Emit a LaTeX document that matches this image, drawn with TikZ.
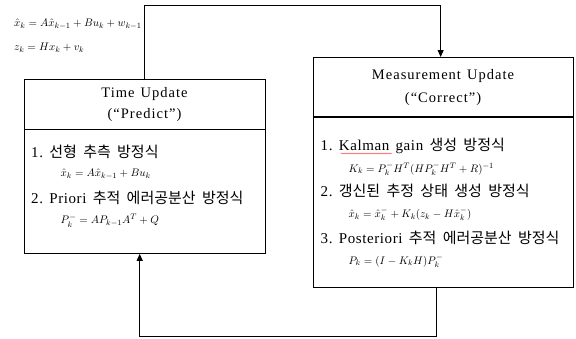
\documentclass[tikz,border=0pt]{standalone}
\usepackage{fontspec}
\setmainfont[LetterSpace=4]{Liberation Serif}
\newfontfamily\hd[LetterSpace=7]{Liberation Serif}
\newfontfamily\kr{Noto Sans CJK KR}
\usetikzlibrary{arrows.meta,decorations.pathmorphing}
\newcommand\kt[1]{{\kr #1}}
\newcommand\gap{\hspace{0.42em}}
\begin{document}
\begin{tikzpicture}[x=1pt,y=-1pt,
  box/.style={draw, line width=1.3pt, minimum width=#1, anchor=north west, inner sep=0pt},
  link/.style={line width=1pt, -{Triangle[length=7pt,width=6pt]}},
  head/.style={font=\hd\fontsize{14.5}{16}\selectfont, inner sep=0pt},
  txt/.style={font=\fontsize{15}{17}\selectfont, anchor=west, inner sep=0pt},
  eq/.style={font=\fontsize{11}{13}\selectfont, anchor=west, inner sep=0pt},
  divider/.style={line width=1.1pt}]
\useasboundingbox (0,0) rectangle (576,338);

% boxes
\node[box=241pt, minimum height=174pt] (tu) at (24,78.5) {};
\node[box=260pt, minimum height=230pt] (mu) at (313,57) {};
\coordinate (tud) at (24,129.7);
\coordinate (mud) at (313,117);
\draw[divider] (tud) -- (tud -| tu.east);
\draw[divider] (mud) -- (mud -| mu.east);

% top-left equations
\node[eq] (e1) at (14,24) {$\hat{x}_k = A\hat{x}_{k-1} + Bu_k + w_{k-1}$};
\node[eq] (e2) at (14,47.5) {$z_k = Hx_k + v_k$};

% left box text
\node[head] (th1) at (144.5,93.7) {Time\gap Update};
\node[head] (th2) at (144.5,115.5) {(“Predict”)};
\node[txt] (l1) at (31,151.7) {1.\gap\kt{선형\gap 추측\gap 방정식}};
\node[eq] (l1e) at (60.5,174) {$\hat{x}_k = A\hat{x}_{k-1} + Bu_k$};
\node[txt] (l2) at (31,197.7) {2.\gap Priori\gap\kt{추적\gap 에러공분산\gap 방정식}};
\node[eq] (l2e) at (60.5,220.7) {$P^-_k = AP_{k-1}A^T + Q$};

% right box text
\node[head] (mh1) at (443,76.3) {Measurement\gap Update};
\node[head] (mh2) at (443,98.7) {(“Correct”)};
\node[txt] (r1) at (320.5,145.7) {1.\gap Kalman\gap gain\gap\kt{생성\gap 방정식}};
\node[eq] (r1e) at (348.5,169) {$K_k = P^-_k H^T(HP^-_k H^T + R)^{-1}$};
\node[txt] (r2) at (320.5,191) {2.\gap\kt{갱신된\gap 추정\gap 상태\gap 생성\gap 방정식}};
\node[eq] (r2e) at (348.5,214.3) {$\hat{x}_k = \hat{x}^-_k + K_k(z_k - H\hat{x}^-_k)$};
\node[txt] (r3) at (320.5,237.7) {3.\gap Posteriori\gap\kt{추적\gap 에러공분산\gap 방정식}};
\node[eq] (r3e) at (348.5,261) {$P_k = (I - K_kH)P^-_k$};

% spell-check underline under Kalman
\coordinate (ka) at (341,153.5);
\coordinate (kb) at (392,153.5);
\draw[red!70, line width=0.35pt, decorate, decoration={zigzag, amplitude=0.5pt, segment length=1.6pt}] (ka) -- (kb);

% connectors
\coordinate (top) at (144,5);
\coordinate (bot) at (139.7,336.7);
\draw[link] (tu.north -| top) -- (top) -| ([xshift=-3pt]mu.north);
\draw[link] ([xshift=-7.5pt]mu.south) |- (bot) -- (bot |- tu.south);
\end{tikzpicture}
\end{document}
